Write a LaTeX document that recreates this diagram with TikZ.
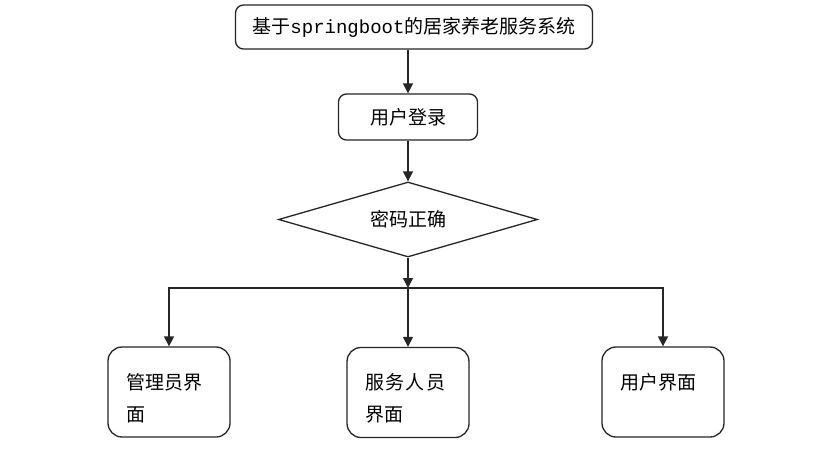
\documentclass[tikz,border=0pt]{standalone}
\usepackage{fontspec}
\setmainfont{Noto Sans CJK SC}
\newfontfamily\monolat{Liberation Mono}
\usetikzlibrary{shapes.geometric,arrows.meta}
\tikzset{
  line/.style={draw=black!85, line width=1.3pt},
  arr/.style={line, -{Triangle[length=10pt,width=10pt]}},
  rbox/.style={line, rectangle, rounded corners=8pt, inner sep=0pt, font=\fontsize{19}{22}\selectfont},
  bbox/.style={line, rectangle, rounded corners=14pt, inner sep=0pt, minimum width=122pt, minimum height=90pt, font=\fontsize{19}{32}\selectfont},
  dia/.style={line, diamond, shape aspect=3.45, inner sep=0pt, minimum width=259pt, minimum height=75pt, font=\fontsize{19}{22}\selectfont},
}
\newcommand{\boxtext}[1]{\parbox[c][76pt][t]{86pt}{\vspace*{19pt}#1}}
\begin{document}
\begin{tikzpicture}[x=1pt,y=-1pt]
\useasboundingbox (0,0) rectangle (836,455);
\fill[white] (0,0) rectangle (836,455);
\node[rbox, minimum width=357pt, minimum height=44pt] (top) at (414,27) {基于{\monolat springboot}的居家养老服务系统};
\node[rbox, minimum width=139pt, minimum height=46pt] (login) at (408,117) {用户登录};
\node[dia] (pw) at (408,219.5) {\raisebox{3pt}{密码正确}};
\coordinate (j) at (408,288);
\node[bbox] (adm) at (169,392) {\boxtext{管理员界\\面}};
\node[bbox] (srv) at (408,392.5) {\boxtext{服\kern1.5pt务\kern1.5pt人\kern1.5pt员\\界面}};
\node[bbox] (usr) at (663,392) {\boxtext{用户界面}};
\draw[arr] (top.south -| login.north) -- (login.north);
\draw[arr] (login.south) -- (pw.north);
\draw[arr] (pw.south) -- (j);
\draw[arr] (j) -| (adm.north);
\draw[arr] (j) -- (srv.north);
\draw[arr] (j) -| (usr.north);
\end{tikzpicture}
\end{document}
